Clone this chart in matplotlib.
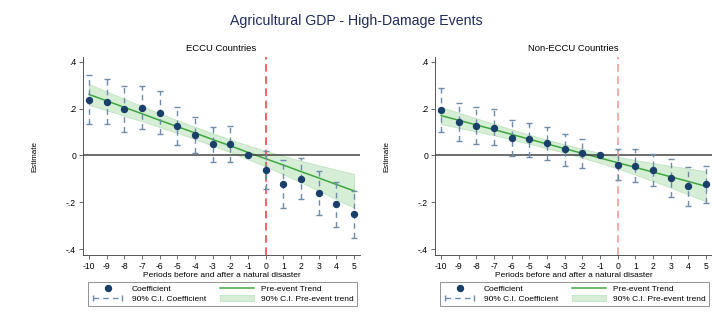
import numpy as np
import matplotlib.pyplot as plt
from matplotlib.lines import Line2D
from matplotlib.patches import Patch
from matplotlib.legend_handler import HandlerLine2D

plt.rcParams['font.family'] = ['Liberation Sans', 'DejaVu Sans']

periods = [-10, -9, -8, -7, -6, -5, -4, -3, -2, -1, 0, 1, 2, 3, 4, 5]
tick_labels = ['-10', '-9', '-8', '-7', '-6', '-5', '-4', '-3', '-2', '-1', '0', '1', '2', '3', '4', '5']
ytick_vals = [-0.4, -0.2, 0, 0.2, 0.4]
ytick_labels = ['-.4', '-.2', '0', '.2', '.4']

# ECCU countries
eccu_coef = [0.237, 0.229, 0.197, 0.203, 0.183, 0.125, 0.088, 0.048, 0.048, 0.0,
             -0.063, -0.124, -0.099, -0.161, -0.209, -0.250]
eccu_ci_hi = [0.345, 0.324, 0.295, 0.298, 0.274, 0.207, 0.166, 0.122, 0.126, np.nan,
              0.017, -0.021, -0.010, -0.067, -0.114, -0.151]
eccu_ci_lo = [0.134, 0.132, 0.098, 0.112, 0.092, 0.043, 0.009, -0.026, -0.028, np.nan,
              -0.145, -0.226, -0.185, -0.254, -0.305, -0.352]
eccu_trend = [0.260, 0.233, 0.205, 0.178, 0.150, 0.123, 0.096, 0.068, 0.041, 0.013,
              -0.014, -0.041, -0.069, -0.096, -0.124, -0.151]
eccu_band = [0.044, 0.040, 0.036, 0.032, 0.029, 0.027, 0.026, 0.026, 0.027, 0.029,
             0.033, 0.039, 0.046, 0.054, 0.063, 0.072]

# Non-ECCU countries
non_coef = [0.195, 0.142, 0.126, 0.119, 0.074, 0.068, 0.051, 0.026, 0.009, 0.0,
            -0.040, -0.043, -0.061, -0.095, -0.132, -0.122]
non_ci_hi = [0.288, 0.222, 0.206, 0.197, 0.151, 0.139, 0.122, 0.092, 0.070, np.nan,
             0.026, 0.026, 0.006, -0.017, -0.048, -0.044]
non_ci_lo = [0.098, 0.060, 0.047, 0.043, -0.001, -0.006, -0.020, -0.044, -0.053, np.nan,
             -0.107, -0.112, -0.129, -0.176, -0.216, -0.203]
non_trend = [0.170, 0.150, 0.130, 0.110, 0.090, 0.069, 0.049, 0.029, 0.009, -0.011,
             -0.031, -0.051, -0.071, -0.091, -0.111, -0.132]
non_band = [0.036, 0.032, 0.028, 0.024, 0.021, 0.019, 0.018, 0.018, 0.019, 0.021,
            0.025, 0.031, 0.038, 0.046, 0.055, 0.064]

NAVY = '#1a3f6b'
CI_COL = '#6d8bab'
GREEN = '#3ca83c'
BAND = '#d6eed6'
BAND_EDGE = '#bfe3bf'


def draw_panel(ax, title, coef, lo, hi, trend, band, vcolor):
    x = np.array(periods)
    tr = np.array(trend)
    bw = np.array(band)
    ax.fill_between(x, tr - bw, tr + bw, facecolor=BAND, edgecolor=BAND_EDGE,
                    linewidth=0.6, zorder=1)
    ax.plot(x, tr, color=GREEN, lw=1.1, zorder=2)
    ax.axhline(0, color='#444444', lw=1.1, zorder=3)
    ax.axvline(0, color=vcolor, lw=1.1, linestyle=(0, (5, 3)), zorder=3)
    ax.vlines(x, lo, hi, colors=CI_COL, linestyles=(0, (4, 3)), lw=1.0, zorder=4)
    ax.plot(x, lo, linestyle='none', marker='_', ms=5, mew=1.0, color=CI_COL, zorder=4)
    ax.plot(x, hi, linestyle='none', marker='_', ms=5, mew=1.0, color=CI_COL, zorder=4)
    ax.plot(x, coef, linestyle='none', marker='o', ms=4.3, color=NAVY, zorder=5)

    ax.set_xlim(-10.34, 5.34)
    ax.set_ylim(-0.425, 0.42)
    ax.set_xticks(periods)
    ax.set_xticklabels(tick_labels)
    ax.set_yticks(ytick_vals)
    ax.set_yticklabels(ytick_labels)
    ax.tick_params(labelsize=6.2, length=3, width=0.6, color='#555555', pad=2)
    for s in ['top', 'right']:
        ax.spines[s].set_visible(False)
    for s in ['left', 'bottom']:
        ax.spines[s].set_color('#555555')
        ax.spines[s].set_linewidth(0.7)
    ax.set_title(title, fontsize=6.8, pad=4)
    ax.set_xlabel('Periods before and after a natural disaster', fontsize=6.0, labelpad=1)
    ax.set_ylabel('Estimate', fontsize=5.8, labelpad=20)

    handles = [
        Line2D([], [], linestyle='none', marker='o', ms=4.3, color=NAVY),
        Line2D([], [], linestyle=(0, (4, 3)), lw=1.0, color=CI_COL, marker='|', ms=4),
        Line2D([], [], lw=1.1, color=GREEN),
        Patch(facecolor=BAND, edgecolor=BAND_EDGE, linewidth=0.6),
    ]
    labels = ['Coefficient', '90% C.I. Coefficient', 'Pre-event Trend', '90% C.I. Pre-event trend']
    leg = ax.legend(handles, labels, ncol=2, loc='upper left', mode='expand',
                    bbox_to_anchor=(0.018, -0.30, 0.971, 0.165), borderaxespad=0,
                    fontsize=6.0, frameon=True, fancybox=False, handlelength=4.0,
                    handletextpad=0.9, columnspacing=1.0, labelspacing=0.3, borderpad=0.35,
                    handler_map={handles[1]: HandlerLine2D(numpoints=2)})
    leg.get_frame().set_edgecolor('#777777')
    leg.get_frame().set_linewidth(0.7)


fig = plt.figure(figsize=(7.12, 3.22), dpi=100)
ax1 = fig.add_axes([0.1166, 0.208, 0.389, 0.615])
ax2 = fig.add_axes([0.611, 0.208, 0.389, 0.615])

draw_panel(ax1, 'ECCU Countries', eccu_coef, eccu_ci_lo, eccu_ci_hi, eccu_trend, eccu_band, '#ff3535')
draw_panel(ax2, 'Non-ECCU Countries', non_coef, non_ci_lo, non_ci_hi, non_trend, non_band, '#ff8f8f')

fig.text(0.5, 0.935, 'Agricultural GDP - High-Damage Events', ha='center', va='center',
         fontsize=10.2, color='#1f2b5a')

fig.savefig('out.png', dpi=100)
